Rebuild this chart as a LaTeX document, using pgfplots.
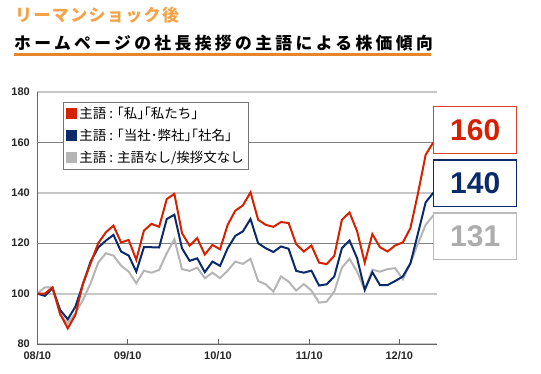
\documentclass[border=0pt]{standalone}
\usepackage{pgfplots}
\pgfplotsset{compat=1.18}
\usepackage{pgfplotstable}
\usepackage{fontspec}
\setmainfont{Liberation Sans}
\newfontfamily\jp{Noto Sans CJK JP}
\newfontfamily\jptitle{Noto Sans CJK JP}[LetterSpace=20]
\newfontfamily\jptitleA{Noto Sans CJK JP}[LetterSpace=8]
\definecolor{cred}{HTML}{D42200}
\definecolor{cnavy}{HTML}{0B2A6B}
\definecolor{cgray}{HTML}{B5B5B5}
\definecolor{corange}{HTML}{F5A348}
\definecolor{cline}{HTML}{E8852A}
\pgfplotstableread{
i red navy gray
0 100 100 100
1 100 99.1 102.5
2 102.5 102.1 102.5
3 92 93.5 91.5
4 86.2 89.8 88.2
5 91.5 94.8 92.2
6 104 103.8 97.5
7 112 112.7 104.1
8 120 118.3 112.3
9 124.3 121 116
10 127 123.3 115.1
11 120.3 116.7 111.1
12 121.3 115.1 108.7
13 113.4 108.7 104.1
14 125 118.4 109.1
15 127.7 118.4 108.3
16 126.5 118.3 109.4
17 137.5 129.6 116
18 139.6 131.3 121.6
19 124 118 109.7
20 119 113 109
21 122 114 110.3
22 115.5 108.5 106.1
23 119.3 112.7 108.3
24 117.6 111 106.1
25 127.3 118 109.1
26 132.9 122.9 112.7
27 135 124.7 111.8
28 140.2 129.6 113.8
29 129.3 120 105
30 127.3 118 103.7
31 126.5 116.5 100.8
32 128.4 118.7 106.8
33 128 117.8 104.8
34 119.6 109 101.2
35 116.7 108.3 103.8
36 119.1 109.1 101.2
37 112.3 103.2 96.4
38 111.7 103.7 96.8
39 115 106.8 100.8
40 129.3 118 110.3
41 132.2 121.1 113.8
42 124.7 114 108.7
43 112.3 101.5 101.5
44 123.6 108.5 109.5
45 118.4 103.4 108.7
46 116.7 103.4 109.7
47 119.1 105 110.1
48 120.3 106.8 105.7
49 126 112 112
50 139.9 124 120
51 155.1 136.2 127.3
52 160 140 131
}\datatable
\begin{document}
\begin{tikzpicture}
\path[use as bounding box] (0pt,0pt) rectangle (541pt,373pt);
% titles
\node[anchor=base west, inner sep=0pt, text=corange] at (15pt,351pt) {\jptitleA\bfseries\fontsize{17}{19}\selectfont リーマンショック後};
\node[anchor=base west, inner sep=0pt, text=black] at (14pt,323pt) {\jptitle\bfseries\fontsize{16.8}{19}\selectfont ホームページの社長挨拶の主語による株価傾向};
\draw[cline, line width=2.5pt] (14pt,318.5pt) -- (431pt,318.5pt);
\begin{axis}[
  scale only axis,
  width=399.4pt, height=252pt,
  at={(37.3pt,29pt)}, anchor=south west,
  xmin=0, xmax=52.45, ymin=80, ymax=180,
  axis x line*=bottom, axis y line*=left,
  axis line style={draw=black!60, line width=1pt},
  xtick={0,11.87,23.73,35.72,47.54},
  xticklabels={08/10,09/10,10/10,11/10,12/10},
  tick align=inside,
  major tick length=5pt,
  xtick style={draw=black!60, line width=0.8pt},
  ytick={80,100,140,180},
  extra y ticks={120,160},
  ytick style={draw=none},
  ymajorgrids,
  major grid style={draw=black!22, line width=2pt},
  extra y tick style={major grid style={draw=black!50, line width=1pt}, ytick style={draw=none}},
  /pgf/number format/assume math mode=true,
  ticklabel style={font=\bfseries\fontsize{11}{13}\selectfont, text=black!85},
  yticklabel style={xshift=-4pt},
  xticklabel style={yshift=-3.5pt},
  reverse legend,
  legend style={at={(0.064,0.962)}, anchor=north west, draw=black!55, line width=0.8pt, fill=white,
    font=\jp\fontsize{13.5}{15}\selectfont, row sep=5pt, inner xsep=3pt, inner ysep=3.5pt},
  legend cell align=left,
  legend image code/.code={\fill[#1] (0pt,-4.5pt) rectangle (9pt,4.5pt);},
]
\addplot[color=cgray, line width=2pt] table[x=i, y=gray] {\datatable};
\addlegendentry{主語 : 主語なし/挨拶文なし}
\addplot[color=cnavy, line width=2pt] table[x=i, y=navy] {\datatable};
\addlegendentry{主語 : ｢当社･弊社｣｢社名｣}
\addplot[color=cred, line width=2pt] table[x=i, y=red] {\datatable};
\addlegendentry{主語 : ｢私｣｢私たち｣}
\end{axis}
% value boxes
\node[draw=cred!85, line width=1.5pt, fill=white, minimum width=83pt, minimum height=46.5pt, text=cred, font=\bfseries\fontsize{30}{32}\selectfont] at (475.2pt,243pt) {160};
\node[draw=cnavy, line width=1.5pt, fill=white, minimum width=83pt, minimum height=46.5pt, text=cnavy, font=\bfseries\fontsize{30}{32}\selectfont] at (475.2pt,189.7pt) {140};
\node[draw=black!27, line width=1.5pt, fill=white, minimum width=83pt, minimum height=46.5pt, text=black!32, font=\bfseries\fontsize{30}{32}\selectfont] at (475.2pt,137pt) {131};
\end{tikzpicture}
\end{document}
